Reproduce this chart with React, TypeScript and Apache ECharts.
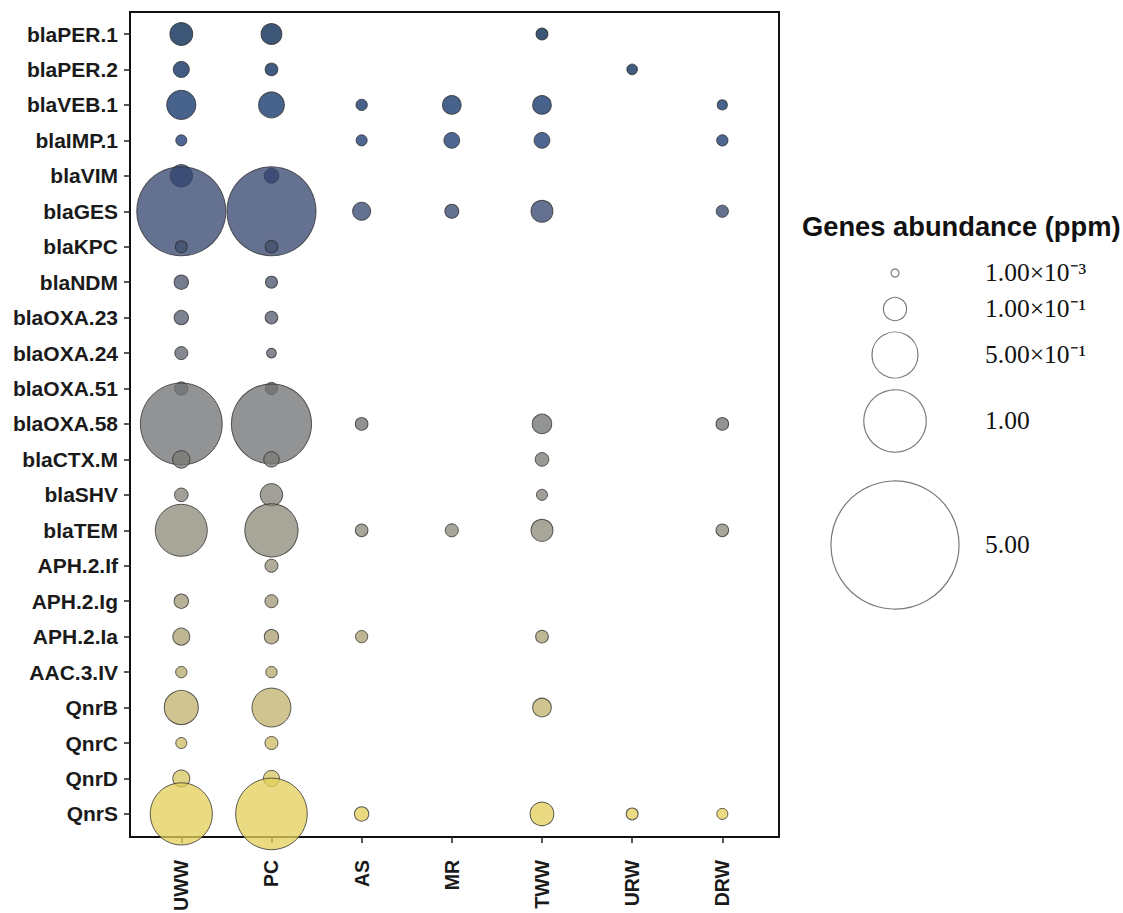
import React, { useEffect, useRef } from "react";
import * as echarts from "echarts";

// ---------------- data ----------------
const genes = [
  "blaPER.1", "blaPER.2", "blaVEB.1", "blaIMP.1", "blaVIM", "blaGES", "blaKPC",
  "blaNDM", "blaOXA.23", "blaOXA.24", "blaOXA.51", "blaOXA.58", "blaCTX.M",
  "blaSHV", "blaTEM", "APH.2.If", "APH.2.Ig", "APH.2.Ia", "AAC.3.IV",
  "QnrB", "QnrC", "QnrD", "QnrS",
];
const sites = ["UWW", "PC", "AS", "MR", "TWW", "URW", "DRW"];

// abundance (ppm) per site, in the order of `genes`; null = not detected
const UWW = [0.096, 0.038, 0.174, 0.011, 0.092, 2.22, 0.0146, 0.027, 0.027, 0.02, 0.021, 1.84, 0.048, 0.023, 0.66, null, 0.027, 0.044, 0.012, 0.25, 0.011, 0.044, 0.99];
const PC = [0.076, 0.018, 0.129, null, 0.03, 2.22, 0.018, 0.0146, 0.018, 0.006, 0.016, 1.75, 0.034, 0.092, 0.7, 0.02, 0.02, 0.027, 0.012, 0.34, 0.02, 0.038, 1.36];
const AS = [null, null, 0.012, 0.011, null, 0.053, null, null, null, null, null, 0.018, null, null, 0.018, null, null, 0.016, null, null, null, null, 0.027];
const MR = [null, null, 0.057, 0.036, null, 0.025, null, null, null, null, null, null, null, null, 0.02, null, null, null, null, null, null, null, null];
const TWW = [0.0146, null, 0.057, 0.036, null, 0.087, null, null, null, null, null, 0.064, 0.023, 0.011, 0.087, null, null, 0.018, null, 0.057, null, null, 0.105];
const URW = [null, 0.009, null, null, null, null, null, null, null, null, null, null, null, null, null, null, null, null, null, null, null, null, 0.0146];
const DRW = [null, null, 0.0077, 0.012, null, 0.016, null, null, null, null, null, 0.018, null, null, 0.018, null, null, null, null, null, null, null, 0.011];
const siteValues = [UWW, PC, AS, MR, TWW, URW, DRW];

// size legend
const legendValues = [0.001, 0.1, 0.5, 1, 5];
const legendLabels = ["1.00×10⁻³", "1.00×10⁻¹", "5.00×10⁻¹", "1.00", "5.00"];
const legendTitle = "Genes abundance (ppm)";

// ---------------- style ----------------
const cividis = ["#00224E", "#123570", "#3B496C", "#575D6D", "#707173", "#8A8779", "#A69D75", "#C4B56C", "#E4CF5B"];

function hexToRgb(h: string) {
  const n = parseInt(h.slice(1), 16);
  return [(n >> 16) & 255, (n >> 8) & 255, n & 255];
}
function colorAt(t: number) {
  const pos = Math.max(0, Math.min(cividis.length - 1, t * 10));
  const i = Math.min(cividis.length - 2, Math.floor(pos));
  const f = pos - i;
  const a = hexToRgb(cividis[i]);
  const b = hexToRgb(cividis[i + 1]);
  const c = a.map((v, k) => Math.round(v + (b[k] - v) * f));
  return `rgb(${c[0]},${c[1]},${c[2]})`;
}

function bubbleSize(v: number) {
  return Math.sqrt(56 + 3844 * Math.pow(v, 0.9));
}

const FONT = "'Liberation Sans', Arial, Helvetica, sans-serif";
const SERIF = "'Liberation Serif', 'Times New Roman', serif";

// frame & positions of category centres
const FL = 130, FT = 12, FR = 779, FB = 837;
const X0 = 181.3, DX = 90.17, Y0 = 34, DY = 35.45;

export default function App() {
  const ref = useRef<HTMLDivElement>(null);

  useEffect(() => {
    if (!ref.current) return;
    const chart = echarts.init(ref.current, null, { renderer: "svg" });

    const data: any[] = [];
    genes.forEach((g, j) => {
      sites.forEach((s, i) => {
        const v = siteValues[i][j];
        if (v == null) return;
        data.push({
          value: [i, j, v],
          itemStyle: { color: colorAt((j / (genes.length - 1)) * 0.8) },
        });
      });
    });

    const gLeft = X0 - DX / 2;
    const gTop = Y0 - DY / 2;
    const gW = sites.length * DX;
    const gH = genes.length * DY;

    const legendCx = 895;
    const legendYs = [273, 309, 355, 421, 545];
    const graphic: any[] = [
      {
        type: "text",
        left: 802,
        top: 213,
        style: { text: legendTitle, font: `bold 27.3px ${FONT}`, fill: "#111" },
      },
    ];
    legendValues.forEach((v, k) => {
      graphic.push({
        type: "circle",
        shape: { cx: legendCx, cy: legendYs[k], r: bubbleSize(v) / 2 },
        style: { fill: "#fff", stroke: "#7a7a7a", lineWidth: 1.2 },
      });
      graphic.push({
        type: "text",
        x: 985,
        y: legendYs[k] - 1,
        style: {
          text: legendLabels[k],
          font: `25.5px ${SERIF}`,
          fill: "#111",
          verticalAlign: "middle",
          align: "left",
        },
      });
    });

    chart.setOption({
      animation: false,
      backgroundColor: "#fff",
      grid: [
        {
          left: FL, top: FT, width: FR - FL, height: FB - FT,
          show: true, borderColor: "#111", borderWidth: 2, backgroundColor: "transparent",
          containLabel: false, outerBoundsMode: "none",
        },
        {
          left: gLeft, top: gTop, width: gW, height: gH, show: false,
          containLabel: false, outerBoundsMode: "none",
        },
      ],
      xAxis: [
        {
          type: "value", gridIndex: 0, show: false,
          min: -(X0 - FL) / DX,
          max: sites.length - 1 + (FR - X0 - (sites.length - 1) * DX) / DX,
        },
        {
          type: "category", gridIndex: 1, data: sites, position: "bottom",
          offset: FB - (gTop + gH),
          axisLine: { show: false },
          axisTick: { show: true, alignWithLabel: true, length: 6, lineStyle: { color: "#222", width: 1.5 } },
          axisLabel: { rotate: 90, margin: 23, fontFamily: FONT, fontWeight: "bold", fontSize: 19.5, color: "#1a1a1a" },
          splitLine: { show: false },
        },
      ],
      yAxis: [
        {
          type: "value", gridIndex: 0, show: false, inverse: true,
          min: -(Y0 - FT) / DY,
          max: genes.length - 1 + (FB - Y0 - (genes.length - 1) * DY) / DY,
        },
        {
          type: "category", gridIndex: 1, data: genes, inverse: true, position: "left",
          offset: gLeft - FL,
          axisLine: { show: false },
          axisTick: { show: true, alignWithLabel: true, length: 6, lineStyle: { color: "#222", width: 1.5 } },
          axisLabel: { margin: 12, fontFamily: FONT, fontWeight: "bold", fontSize: 21, color: "#1a1a1a" },
          splitLine: { show: false },
        },
      ],
      series: [
        {
          type: "scatter",
          xAxisIndex: 0,
          yAxisIndex: 0,
          clip: true,
          data,
          symbol: "circle",
          symbolSize: (val: number[]) => bubbleSize(val[2]),
          itemStyle: { borderColor: "#2a2a2a", borderWidth: 1, opacity: 0.76 },
          emphasis: { disabled: true },
        },
      ],
      graphic,
    });

    return () => chart.dispose();
  }, []);

  return (
    <div
      ref={ref}
      style={{ position: "fixed", left: 0, top: 0, width: 1123, height: 913, background: "#fff" }}
    />
  );
}
